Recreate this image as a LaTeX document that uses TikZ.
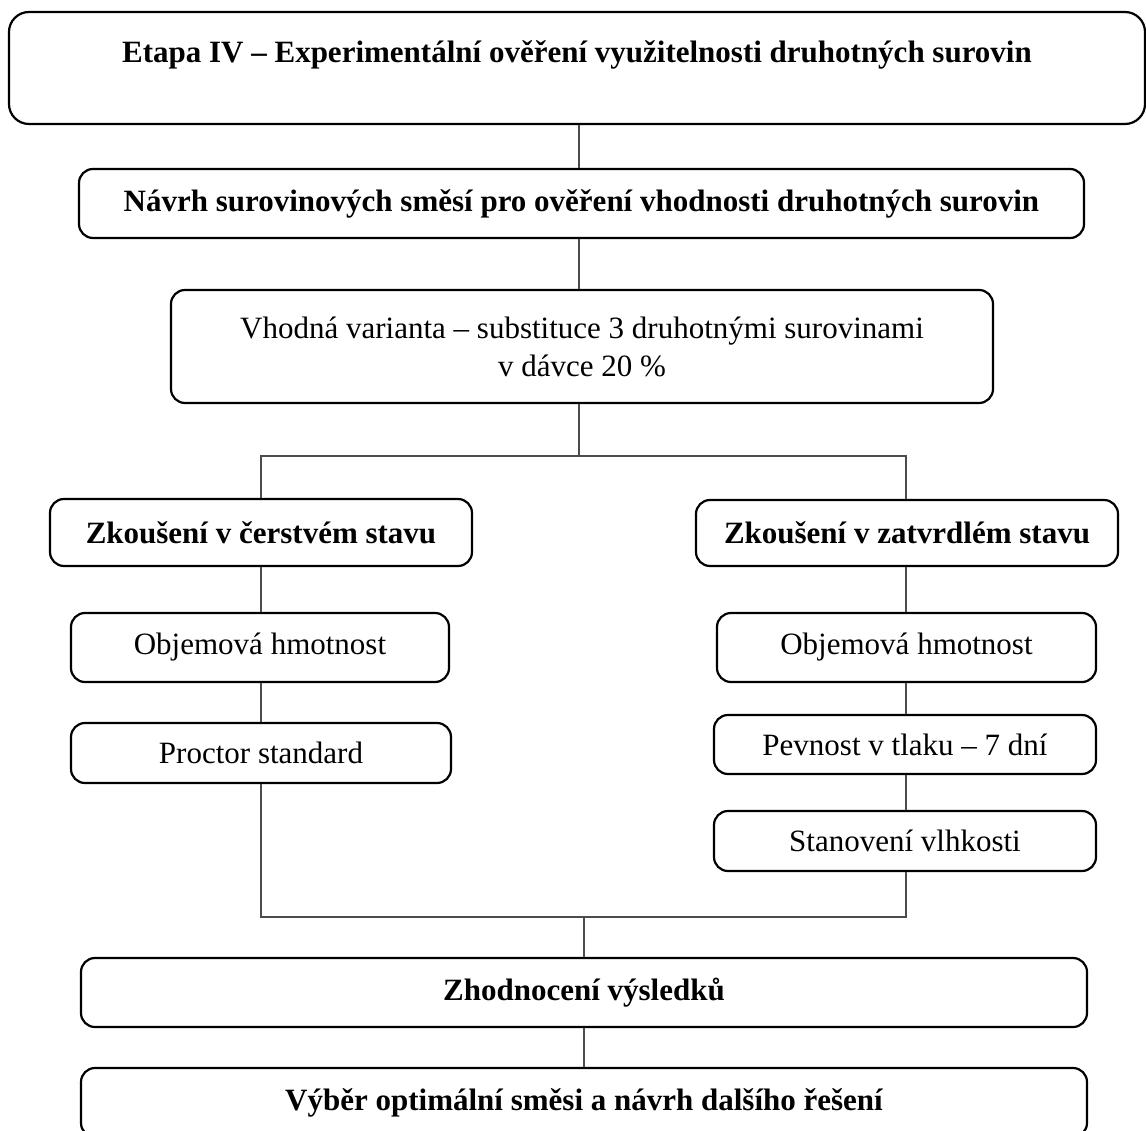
\documentclass[tikz,border=0pt]{standalone}
\usepackage{fontspec}
\setmainfont{Liberation Serif}
\begin{document}
\begin{tikzpicture}[x=1pt,y=-1pt,
  box/.style={draw, line width=2.2pt, rounded corners=14pt, inner sep=0pt, align=center,
    font=\fontsize{31}{38}\selectfont},
  bbox/.style={box, font=\fontsize{31}{38}\selectfont\bfseries},
  plain/.style={inner sep=0pt, font=\fontsize{31}{38}\selectfont\bfseries},
  conn/.style={draw=black!70, line width=1.1pt}]
\useasboundingbox (0,0) rectangle (1146,1131);
% boxes
\node[box, minimum width=1136pt, minimum height=112pt, rounded corners=20pt] (b1) at (577,68) {};
\node[plain] (b1t) at (577,55) {Etapa IV – Experimentální ověření využitelnosti druhotných surovin};
\node[bbox, minimum width=1005pt, minimum height=69pt] (b2) at (581.5,203.5) {Návrh surovinových směsí pro ověření vhodnosti druhotných surovin};
\node[box, minimum width=822pt, minimum height=113pt] (b3) at (582,346.5) {Vhodná varianta – substituce 3 druhotnými surovinami\\v dávce 20 \%};
\node[bbox, minimum width=422pt, minimum height=67pt] (L) at (261,532.5) {Zkoušení v čerstvém stavu};
\node[bbox, minimum width=422pt, minimum height=66pt] (R) at (907,533) {Zkoušení v zatvrdlém stavu};
\node[box, minimum width=378pt, minimum height=69pt] (LO) at (260,647.5) {Objemová hmotnost};
\node[box, minimum width=380pt, minimum height=60pt] (LP) at (261,753) {Proctor standard};
\node[box, minimum width=379pt, minimum height=69pt] (RO) at (906.5,647.5) {Objemová hmotnost};
\node[box, minimum width=382pt, minimum height=59pt] (RP) at (905,744.5) {Pevnost v tlaku – 7 dní};
\node[box, minimum width=382pt, minimum height=60pt] (RS) at (905,841) {Stanovení vlhkosti};
\node[bbox, minimum width=1006pt, minimum height=69pt] (Z) at (584,992.5) {Zhodnocení výsledků};
\node[bbox, minimum width=1006pt, minimum height=69pt] (V) at (584,1102.5) {Výběr optimální směsi a návrh dalšího řešení};
% junction points
\coordinate (jt) at (579,456);
\coordinate (jl) at (261,456);
\coordinate (jr) at (906,456);
\coordinate (kl) at (261,917);
\coordinate (kr) at (906,917);
\coordinate (kc) at (584,917);
% connectors
\draw[conn] (b1.south -| jt) -- (b2.north -| jt);
\draw[conn] (b2.south -| jt) -- (b3.north -| jt);
\draw[conn] (b3.south -| jt) -- (jt);
\draw[conn] (jl |- L.north) -- (jl) -- (jr) -- (jr |- R.north);
\draw[conn] (L.south -| jl) -- (LO.north -| jl);
\draw[conn] (LO.south -| jl) -- (LP.north -| jl);
\draw[conn] (R.south -| jr) -- (RO.north -| jr);
\draw[conn] (RO.south -| jr) -- (RP.north -| jr);
\draw[conn] (RP.south -| jr) -- (RS.north -| jr);
\draw[conn] (LP.south -| kl) -- (kl) -- (kr) -- (RS.south -| kr);
\draw[conn] (kc) -- (Z.north -| kc);
\draw[conn] (Z.south -| kc) -- (V.north -| kc);
\end{tikzpicture}
\end{document}
